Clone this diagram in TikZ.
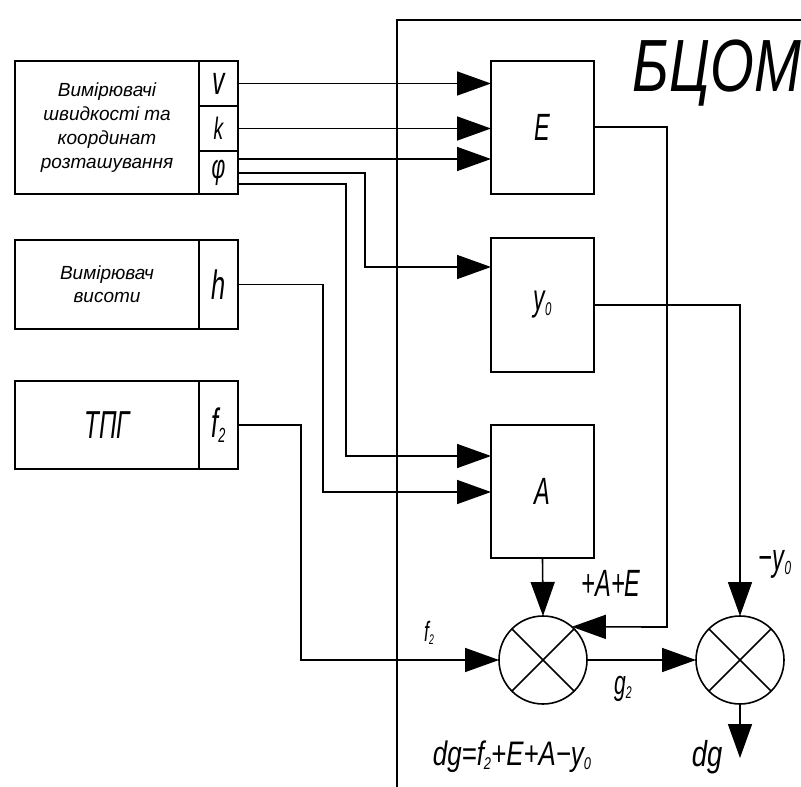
\documentclass[tikz,border=0pt]{standalone}
\usepackage{fontspec}
\setmainfont{Liberation Sans}
\newfontfamily\gn{Liberation Sans}[FakeStretch=0.62]
\newfontfamily\gw{Liberation Sans}[FakeStretch=0.76]
\usetikzlibrary{arrows.meta}
\newcommand{\lowsub}[1]{\raisebox{-0.12em}{\scalebox{0.5}{#1}}}
\newcommand{\fsz}[1]{\fontsize{#1}{#1}\selectfont}
\begin{document}
\begin{tikzpicture}[x=1pt,y=-1pt,line width=1.6pt,
  box/.style={draw,rectangle,inner sep=0pt,outer sep=0pt,anchor=north west},
  sumnode/.style={draw,circle,minimum size=88pt,inner sep=0pt,outer sep=0pt},
  arr/.style={-{Triangle[length=34pt,width=24pt]}},
  lbl/.style={inner sep=0pt}]
\useasboundingbox (0,0) rectangle (801,787);
\fill[white] (0,0) rectangle (801,787);
% left blocks
\node[box,minimum width=184pt,minimum height=133pt,align=center,
  font=\itshape\fontsize{19}{24}\selectfont] (m1) at (15,61)
  {Вимірювачі\\швидкості та\\координат\\розташування};
\node[box,minimum width=39pt,minimum height=45pt,font=\gn\itshape\fsz{40}] (cv) at (199,61) {v};
\node[box,minimum width=39pt,minimum height=45pt,font=\gn\itshape\fsz{31}] (ck) at (199,106) {k};
\node[box,minimum width=39pt,minimum height=43pt,font=\gn\itshape\fsz{34}] (cphi) at (199,151) {φ};
\node[box,minimum width=184pt,minimum height=89pt,align=center,
  font=\itshape\fontsize{19}{23}\selectfont] (m2) at (15,240) {Вимірювач\\висоти};
\node[box,minimum width=39pt,minimum height=89pt,font=\gn\itshape\fsz{41}] (ch) at (199,240) {h};
\node[box,minimum width=184pt,minimum height=88pt,font=\gn\itshape\fsz{39}] (m3) at (15,381) {ТПГ};
\node[box,minimum width=39pt,minimum height=88pt,font=\gn\itshape\fsz{41}] (cf) at (199,381) {f\lowsub{2}};
% BCOM frame
\draw (815,20) -- (397,20) -- (397,800);
\node[lbl,font=\gw\itshape\fsz{74}] (title) at (717,73) {БЦОМ};
% internal blocks
\node[box,minimum width=103pt,minimum height=133pt,font=\gn\itshape\fsz{38}] (E) at (491,61) {E};
\node[box,minimum width=103pt,minimum height=134pt,font=\gn\itshape\fsz{37}] (Y) at (491,238) {y\lowsub{0}};
\node[box,minimum width=103pt,minimum height=133pt,font=\gn\itshape\fsz{38}] (A) at (491,425) {A};
\node[sumnode] (S1) at (543,660) {};
\node[sumnode] (S2) at (740,660) {};
\foreach \s in {S1,S2} {
  \draw (\s.45) -- (\s.225);
  \draw (\s.135) -- (\s.315);
}
% connectors
\draw[arr] (cv.east) -- (E.west |- cv.east);
\draw[arr] (ck.east) -- (E.west |- ck.east);
\draw[arr] (cphi.east |- 0,159) -- (E.west |- 0,159);
\draw[arr] (cphi.east |- 0,173) -- (365,173) -- (365,267) -- (Y.west |- 0,267);
\draw[arr] (cphi.east |- 0,184) -- (346,184) -- (346,456) -- (A.west |- 0,456);
\draw[arr] (ch.east) -- (323,284.5) -- (323,492) -- (A.west |- 0,492);
\draw[arr] (cf.east) -- (301,425) -- (301,660) -- (S1.west);
\draw[arr] (E.east |- 0,127) -- (667,127) -- (667,627) -- (S1.49);
\draw[arr] (A.south) -- (S1.north);
\draw[arr] (Y.east |- 0,305) -- (740,305) -- (S2.north);
\draw[arr] (S1.east) -- (S2.west);
\coordinate (dgend) at (740,758);
\draw[arr] (S2.south) -- (dgend);
% labels
\node[lbl,font=\gn\itshape\fsz{38}] (lAE) at (611,583) {+A+E};
\node[lbl,font=\gn\itshape\fsz{28}] (lf) at (429,633) {f\lowsub{2}};
\node[lbl,font=\gn\itshape\fsz{34}] (lg) at (623,689) {g\lowsub{2}};
\node[lbl,font=\gn\itshape\fsz{38}] (ly) at (775,564) {−y\lowsub{0}};
\node[lbl,font=\gw\itshape\fsz{36}] (ldg) at (707,757) {dg};
\node[lbl,font=\gw\itshape\fsz{34}] (lform) at (512,757) {dg=f\lowsub{2}+E+A−y\lowsub{0}};
\end{tikzpicture}
\end{document}
